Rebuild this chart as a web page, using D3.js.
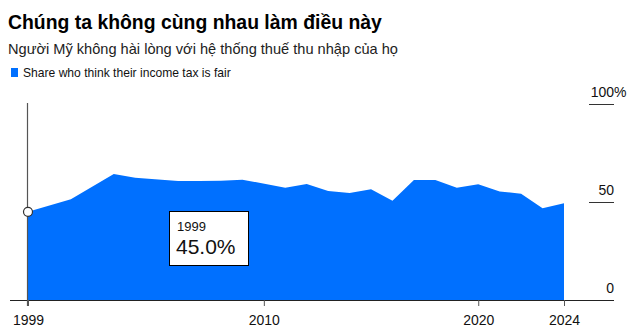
<!DOCTYPE html>
<html><head><meta charset="utf-8">
<script src="https://cdn.jsdelivr.net/npm/d3@7"></script>
<style>
body{margin:0;background:#fff;}
svg{display:block;font-family:"Liberation Sans",Arial,Helvetica,sans-serif;}
</style></head>
<body><svg id="c" width="632" height="335"></svg>
<script>
const years = [1999,2001,2003,2004,2006,2007,2008,2009,2011,2012,2013,2014,2015,2016,2017,2018,2019,2020,2021,2022,2023,2024];
const fairShare = [45.0,51.4,64.3,62.4,60.7,60.7,60.9,61.4,57.3,59.2,55.6,54.6,56.5,50.7,61.2,61.2,57.3,59.0,55.4,54.2,46.8,49.3];
const xTicks = [1999,2010,2020,2024];
const yTicks = [0,50,100];
const title = "Chúng ta không cùng nhau làm điều này";
const subtitle = "Người Mỹ không hài lòng với hệ thống thuế thu nhập của họ";
const legendLabel = "Share who think their income tax is fair";
const hoverIndex = 0;

const svg = d3.select("#c");
const x = d3.scaleLinear().domain([1999,2024]).range([28,564]);
const y = d3.scaleLinear().domain([0,100]).range([300,104]);
const data = years.map((yr,i)=>({year:yr,v:fairShare[i]}));
const blue = "#0070ff";

svg.append("text").attr("x",8).attr("y",29).attr("font-size",19.4).attr("font-weight","bold").attr("fill","#000").text(title);
svg.append("text").attr("x",8).attr("y",54).attr("font-size",14.6).attr("fill","#222").text(subtitle);
svg.append("rect").attr("x",11).attr("y",68).attr("width",7).attr("height",9).attr("fill",blue);
svg.append("text").attr("x",23).attr("y",77).attr("font-size",12.1).attr("fill","#111").text(legendLabel);

// area
const area = d3.area().x(d=>x(d.year)).y0(y(0)).y1(d=>y(d.v));
svg.append("path").datum(data).attr("d",area).attr("fill",blue);

// y ticks on the right
const yg = svg.append("g");
yTicks.forEach(t=>{
  const yy = Math.round(y(t))+0.5;
  if(t>0) yg.append("line").attr("x1",589).attr("x2",614).attr("y1",yy).attr("y2",yy).attr("stroke","#333").attr("stroke-width",1);
  yg.append("text").attr("x",614).attr("y",yy-8).attr("font-size",14).attr("fill","#111").attr("text-anchor","end").text(t);
  if(t===100) yg.append("text").attr("x",614).attr("y",yy-8).attr("font-size",14).attr("fill","#111").text("%");
});

// baseline
svg.append("line").attr("x1",10).attr("x2",614).attr("y1",300.5).attr("y2",300.5).attr("stroke","#222");

// x axis ticks
const xAxis = d3.axisBottom(x).tickValues(xTicks).tickFormat(d3.format("d")).tickSize(6).tickPadding(9);
const xg = svg.append("g").attr("transform","translate(0,300)").call(xAxis);
xg.select(".domain").remove();
xg.selectAll(".tick line").attr("stroke","#555");
xg.selectAll(".tick text").attr("font-size",14).attr("fill","#111").attr("font-family","Liberation Sans,Arial,sans-serif");

// hover line and marker
const hd = data[hoverIndex];
const hx = Math.round(x(hd.year))-0.5;
svg.append("line").attr("x1",hx).attr("x2",hx).attr("y1",103).attr("y2",306).attr("stroke","#555").attr("stroke-width",1.2);
svg.append("circle").attr("cx",x(hd.year)).attr("cy",y(hd.v)).attr("r",4.5).attr("fill","#fff").attr("stroke","#333").attr("stroke-width",1.2);

// tooltip
const tb = svg.append("g");
tb.append("rect").attr("x",169.5).attr("y",211.5).attr("width",79).attr("height",54).attr("fill","#fff").attr("stroke","#000");
tb.append("text").attr("x",177).attr("y",231).attr("font-size",13).attr("fill","#111").text(hd.year);
tb.append("text").attr("x",176).attr("y",254).attr("font-size",21).attr("fill","#111").text(d3.format(".1f")(hd.v)+"%");
</script></body></html>
